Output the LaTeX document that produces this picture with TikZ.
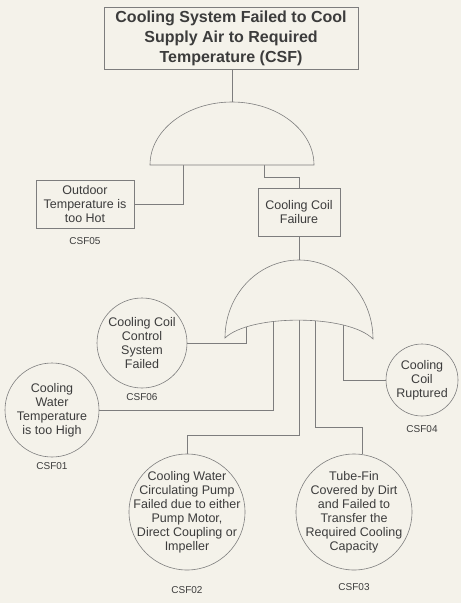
\documentclass[tikz,border=0pt]{standalone}
\usepackage{fontspec}
\setmainfont{Liberation Sans}
\usetikzlibrary{positioning}
\definecolor{paper}{RGB}{244,242,234}
\definecolor{ink}{RGB}{60,60,60}
\definecolor{wire}{RGB}{125,125,125}

\begin{document}
\begin{tikzpicture}[x=1pt, y=-1pt, line width=0.6pt,
    evtbox/.style={draw=wire, rectangle, inner sep=0pt, text=ink, align=center, font=\fontsize{12.5}{14}\selectfont},
    evtcirc/.style={draw=wire, circle, inner sep=0pt},
    evttext/.style={text=ink, align=center, inner sep=0pt, font=\fontsize{12.5}{14}\selectfont},
    idlabel/.style={text=ink, inner sep=0pt, font=\fontsize{10}{12}\selectfont},
    link/.style={draw=wire},
    gate/.style={draw=wire, fill=paper}]
    \fill[paper] (0,0) rectangle (461,603);
    \useasboundingbox (0,0) rectangle (461,603);

    % events
    \node[evtbox, font=\fontsize{16}{20}\selectfont\bfseries, minimum width=254pt, minimum height=62pt] (csf) at (231,38)
        {Cooling System Failed to Cool\\Supply Air to Required\\Temperature (CSF)};
    \node[evtbox, minimum width=98pt, minimum height=48pt] (outdoor) at (85,204) {Outdoor\\Temperature is\\too Hot};
    \node[idlabel, below=9pt of outdoor] (lab05) {CSF05};
    \node[evtbox, minimum width=82pt, minimum height=48pt] (coil) at (299,212) {Cooling Coil\\Failure};

    \node[evtcirc, minimum size=90pt] (csf06) at (142,343) {};
    \node[evttext] at (csf06) {Cooling Coil\\Control\\System\\Failed};
    \node[idlabel, below=4.5pt of csf06] (lab06) {CSF06};

    \node[evtcirc, minimum size=94pt] (csf01) at (52,410) {};
    \node[evttext] at (csf01) {Cooling\\Water\\Temperature\\is too High};
    \node[idlabel, below=5pt of csf01] (lab01) {CSF01};

    \node[evtcirc, minimum size=116pt] (csf02) at (187,512) {};
    \node[evttext] at (csf02) {Cooling Water\\Circulating Pump\\Failed due to either\\Pump Motor,\\Direct Coupling or\\Impeller};
    \node[idlabel, below=16pt of csf02] (lab02) {CSF02};

    \node[evtcirc, minimum size=116pt] (csf03) at (354,512) {};
    \node[evttext] at (csf03) {Tube-Fin\\Covered by Dirt\\and Failed to\\Transfer the\\Required Cooling\\Capacity};
    \node[idlabel, below=13pt of csf03] (lab03) {CSF03};

    \node[evtcirc, minimum size=72pt] (csf04) at (422,380) {};
    \node[evttext] at (csf04) {Cooling\\Coil\\Ruptured};
    \node[idlabel, below=8.5pt of csf04] (lab04) {CSF04};

    % gate ports
    \coordinate (g1in) at (232,102);
    \coordinate (g1a) at (183,150);
    \coordinate (g1b) at (264,150);
    \coordinate (g2in) at (299,260);
    \coordinate (g2a) at (246,310);
    \coordinate (g2b) at (273,310);
    \coordinate (g2c) at (299,310);
    \coordinate (g2d) at (315,310);
    \coordinate (g2e) at (343,310);

    % connectors
    \draw[link] (g1in |- csf.south) -- (g1in);
    \draw[link] (g1a) |- (outdoor.east);
    \draw[link] (g1b) -- ++(0,27) -| (coil.north);
    \draw[link] (coil.south) -- (g2in);
    \draw[link] (csf06.east) -| (g2a);
    \draw[link] (csf01.east) -| (g2b);
    \draw[link] (g2c) -- ++(0,125) -| (csf02.north);
    \draw[link] (g2d) -- ++(0,117) -| (csf03.82);
    \draw[link] (g2e) |- (csf04.west);

    % AND gate
    \draw[gate] (150,165) .. controls (150,130) and (187,102) .. (232,102)
        .. controls (277,102) and (314,130) .. (314,165) -- cycle;
    % OR gate
    \draw[gate] (225,338) .. controls (225,295) and (258,260) .. (299,260)
        .. controls (340,260) and (373,296) .. (373,339)
        .. controls (348,314) and (250,314) .. cycle;
\end{tikzpicture}
\end{document}
